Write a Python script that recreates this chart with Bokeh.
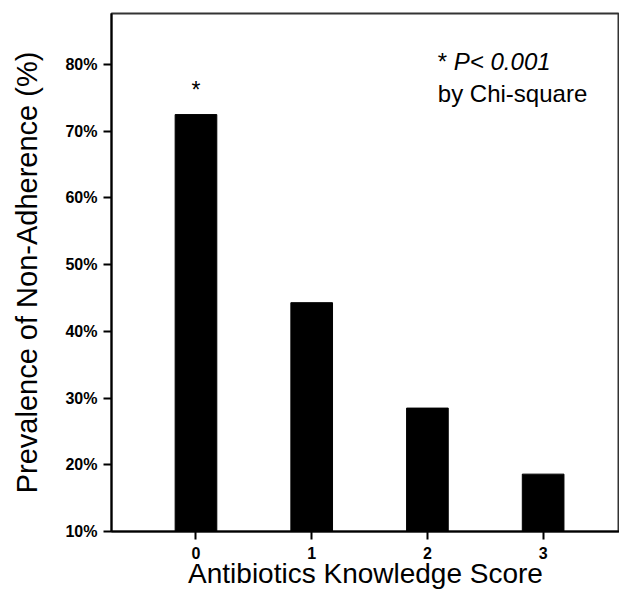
from bokeh.plotting import figure
from bokeh.models import Range1d, FixedTicker, PrintfTickFormatter, Label, ColumnDataSource
from bokeh.embed import file_html
from bokeh.resources import INLINE
from bokeh.core.properties import value

# data
scores = [0, 1, 2, 3]
score_labels = ["0", "1", "2", "3"]
prevalence = [72.5, 44.3, 28.5, 18.6]
y_ticks = [10, 20, 30, 40, 50, 60, 70, 80]
x_title = "Antibiotics Knowledge Score"
y_title = "Prevalence of Non-Adherence (%)"

FONT = "Liberation Sans"

p = figure(width=619, height=593, output_backend="svg", toolbar_location=None,
           x_range=Range1d(-0.73, 3.66), y_range=Range1d(10, 87.65),
           min_border_left=111, min_border_right=0, min_border_top=13, min_border_bottom=62)

src = ColumnDataSource(dict(x=scores, top=prevalence))
p.vbar(x="x", top="top", bottom=10, width=0.36, source=src,
       fill_color="black", line_color="black")

# significance asterisk above bar 0
p.text(x=[scores[0]], y=[prevalence[0] + 1.8], text=["*"], text_align="center",
       text_baseline="bottom", text_font=value(FONT), text_font_size="23px", text_color="black")

p.xgrid.visible = False
p.ygrid.visible = False
p.outline_line_color = "#333333"
p.outline_line_width = 2

p.xaxis.ticker = FixedTicker(ticks=scores)
p.xaxis.major_label_overrides = {s: l for s, l in zip(scores, score_labels)}
p.yaxis.ticker = FixedTicker(ticks=y_ticks)
p.yaxis.formatter = PrintfTickFormatter(format="%d%%")

for ax in (p.xaxis[0], p.yaxis[0]):
    ax.axis_line_color = "black"
    ax.axis_line_width = 2
    ax.major_tick_line_color = "black"
    ax.major_tick_line_width = 2
    ax.major_tick_out = 8
    ax.major_tick_in = 0
    ax.minor_tick_line_color = None
    ax.major_label_text_font = FONT
    ax.major_label_text_font_size = "16px"
    ax.major_label_text_font_style = "bold"
    ax.major_label_text_color = "black"
    ax.axis_label_text_font = FONT
    ax.axis_label_text_font_style = "normal"
    ax.axis_label_text_color = "black"

p.xaxis.axis_label = x_title
p.yaxis.axis_label = y_title
p.xaxis.axis_label_text_font_size = "28px"
p.yaxis.axis_label_text_font_size = "29px"
p.xaxis.major_label_standoff = 7
p.xaxis.axis_label_standoff = -4
p.yaxis.major_label_standoff = 6
p.yaxis.axis_label_standoff = 19

p.add_layout(Label(x=2.09, y=80.4, text="*", text_font=FONT, text_font_size="24px",
                   text_color="black", text_baseline="alphabetic"))
p.add_layout(Label(x=2.09, y=80.4, x_offset=16, text="P< 0.001", text_font=FONT,
                   text_font_size="24px", text_font_style="italic", text_color="black",
                   text_baseline="alphabetic"))
p.add_layout(Label(x=2.09, y=75.7, text="by Chi-square", text_font=FONT, text_font_size="24px",
                   text_color="black", text_baseline="alphabetic"))

open("out.html", "w").write(file_html(p, INLINE))
